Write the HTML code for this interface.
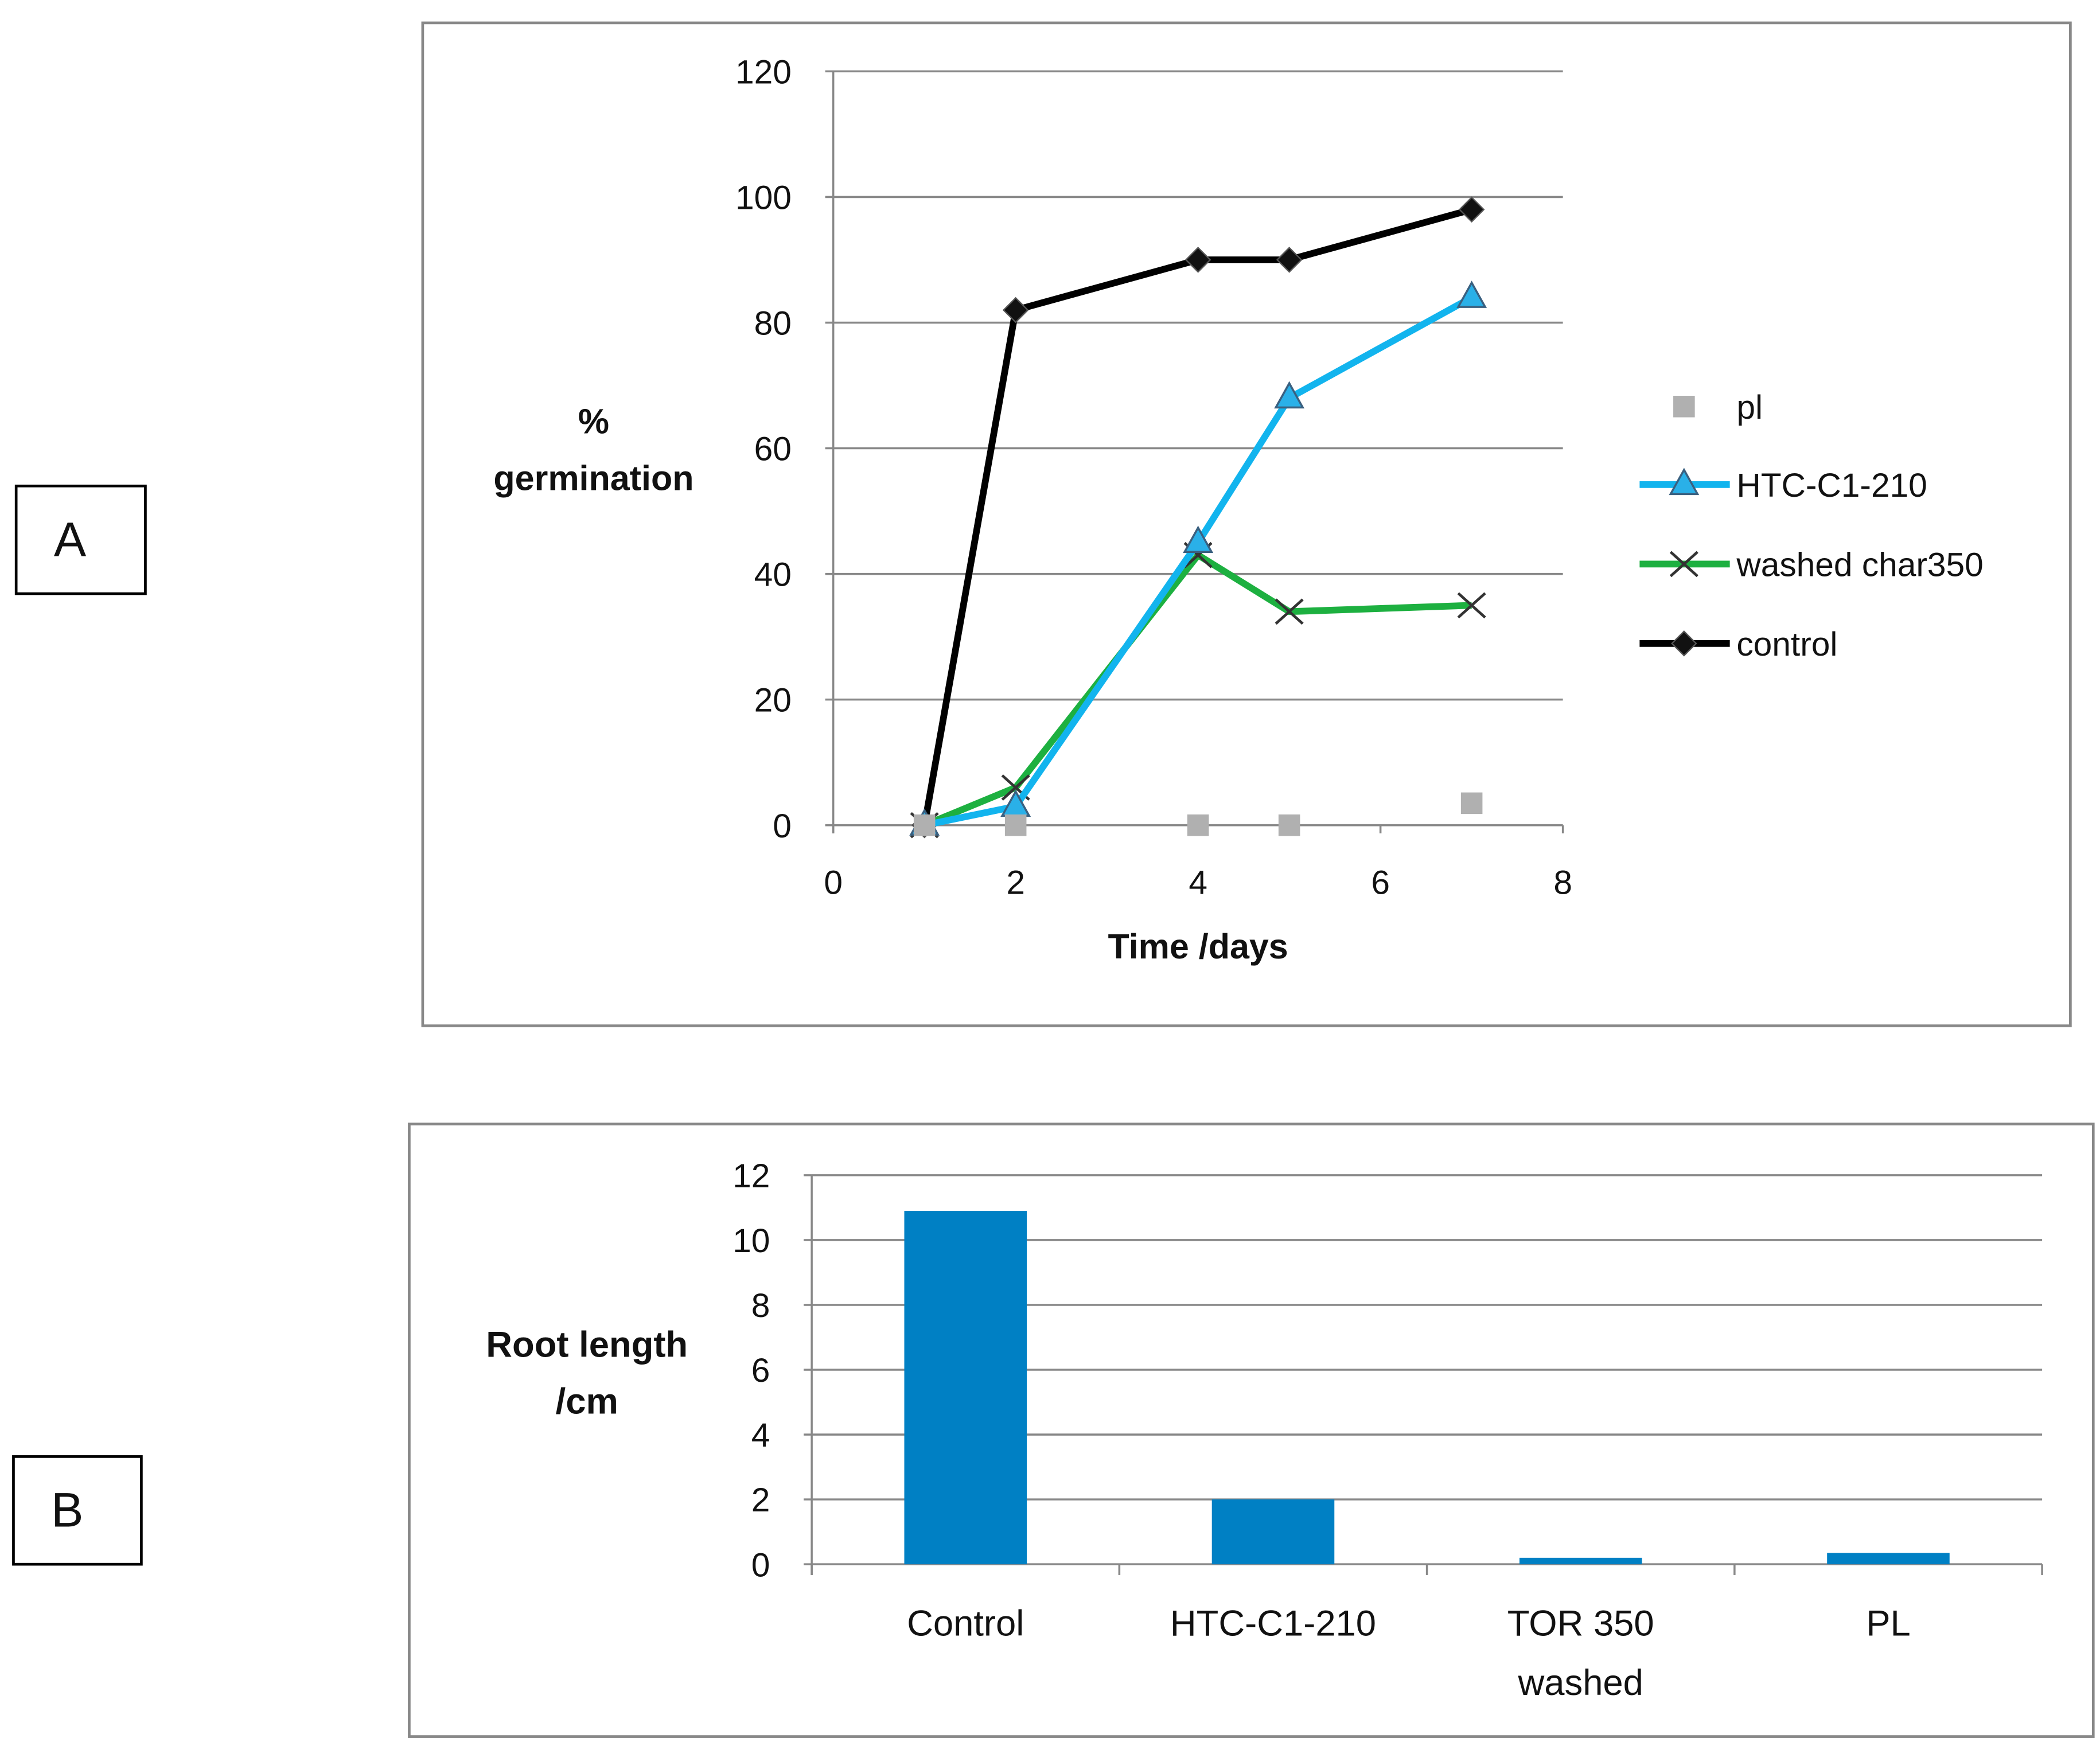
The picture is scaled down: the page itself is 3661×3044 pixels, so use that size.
<!DOCTYPE html>
<html><head><meta charset="utf-8"><style>html,body{margin:0;padding:0;background:#fff}svg{display:block}text{font-family:"Liberation Sans","DejaVu Sans",sans-serif;fill:#111}</style></head>
<body>
<svg id="s" width="3661" height="3044" viewBox="0 0 1560 1297" preserveAspectRatio="none" xmlns="http://www.w3.org/2000/svg">
<rect x="12" y="361" width="96" height="80" fill="none" stroke="#000" stroke-width="2"/>
<text x="52" y="413" font-size="36" text-anchor="middle">A</text>
<rect x="10" y="1082" width="95" height="80" fill="none" stroke="#000" stroke-width="2"/>
<text x="50" y="1134" font-size="36" text-anchor="middle">B</text>
<rect x="314" y="17" width="1224" height="745" fill="none" stroke="#888" stroke-width="2"/>
<rect x="304" y="835" width="1251" height="455" fill="none" stroke="#888" stroke-width="2"/>
<g id="ga"></g><g id="gb"></g>
</svg>
<script>
const days=[1,2,4,5,7];
const plVals=[0,0,0,0,3.5];
const htcVals=[0,3,45,68,84];
const washedVals=[0,6,43,34,35];
const controlVals=[0,82,90,90,98];
const yTicksA=[0,20,40,60,80,100,120];
const xTicksA=[0,2,4,6,8];
const cats=[["Control"],["HTC-C1-210"],["TOR 350","washed"],["PL"]];
const rootVals=[10.9,2.0,0.2,0.35];
const yTicksB=[0,2,4,6,8,10,12];
const NS="http://www.w3.org/2000/svg";
function mk(p,t,a,txt){const e=document.createElementNS(NS,t);for(const k in a)e.setAttribute(k,a[k]);if(txt!=null)e.textContent=txt;p.appendChild(e);return e;}
const ga=document.getElementById('ga');
const xA=v=>619+v*(1161-619)/8, yA=v=>613-v*(613-53)/120;
for(const t of yTicksA){
 const l=mk(ga,'line',{x1:xA(0)-6,x2:xA(8),y1:yA(t),y2:yA(t),stroke:'#888','stroke-width':1.5});
 
 
 const tx=mk(ga,'text',{x:588,y:yA(t)+9,'font-size':25,'text-anchor':'end'},t);
 
 
}
mk(ga,'line',{x1:xA(0),x2:xA(0),y1:yA(120),y2:yA(0)+6,stroke:'#888','stroke-width':1.5});
for(const t of xTicksA){
 mk(ga,'line',{x1:xA(t),x2:xA(t),y1:yA(0),y2:yA(0)+6,stroke:'#888','stroke-width':1.5});
 const tx=mk(ga,'text',{x:xA(t),y:664,'font-size':25,'text-anchor':'middle'},t);
 
 
}
let e=mk(ga,'text',{x:441,y:322,'font-size':26,'font-weight':'bold','text-anchor':'middle'},'%');


e=mk(ga,'text',{x:441,y:364,'font-size':26,'font-weight':'bold','text-anchor':'middle'},'germination');


e=mk(ga,'text',{x:890,y:712,'font-size':26,'font-weight':'bold','text-anchor':'middle'},'Time /days');


function marker(g,type,x,y,col){
 if(type==='sq'){mk(g,'rect',{x:x-8,y:y-8,width:16,height:16,fill:'#b0b0b0'});}
 else if(type==='tri'){mk(g,'polygon',{points:`${x},${y-11} ${x+10},${y+7} ${x-10},${y+7}`,fill:'#2ab0e8',stroke:'#3a6080','stroke-width':1.5});}
 else if(type==='x'){mk(g,'path',{d:`M${x-10},${y-9}L${x+10},${y+9}M${x-10},${y+9}L${x+10},${y-9}`,stroke:'#333','stroke-width':2});}
 else {mk(g,'polygon',{points:`${x},${y-9} ${x+9},${y} ${x},${y+9} ${x-9},${y}`,fill:'#111',stroke:'#555','stroke-width':1});}
}
const series=[{n:'control',v:controlVals,c:'#000',m:'dia'},{n:'washed-char350',v:washedVals,c:'#1db040',m:'x'},{n:'htc-c1-210',v:htcVals,c:'#12b4ee',m:'tri'},{n:'pl',v:plVals,c:null,m:'sq'}];
for(const s of series){
 const g=mk(ga,'g',{});
 
 
 if(s.c){const p=mk(g,'polyline',{points:days.map((d,i)=>xA(d)+','+yA(s.v[i])).join(' '),fill:'none',stroke:s.c,'stroke-width':5,'stroke-linejoin':'round'});
  
  }
 days.forEach((d,i)=>marker(g,s.m,xA(d),yA(s.v[i]),s.c));
}
const leg=[['pl','sq',null,302],['HTC-C1-210','tri','#12b4ee',360],['washed char350','x','#1db040',419],['control','dia','#000',478]];
for(const [t,m,c,y] of leg){
 const g=mk(ga,'g',{});
 
 
 if(c)mk(g,'line',{x1:1218,x2:1285,y1:y,y2:y,stroke:c,'stroke-width':5});
 marker(g,m,1251,y,c);
 mk(g,'text',{x:1290,y:y+9,'font-size':25},t);
}
const gb=document.getElementById('gb');
const x0=603,x1=1517,cw=(x1-x0)/cats.length,yB=v=>1162-v*(1162-873)/12;
for(const t of yTicksB){
 if(t>0){const l=mk(gb,'line',{x1:x0,x2:x1,y1:yB(t),y2:yB(t),stroke:'#888','stroke-width':1.5});
 
 }
 mk(gb,'line',{x1:x0-6,x2:x0,y1:yB(t),y2:yB(t),stroke:'#888','stroke-width':1.5});
 const tx=mk(gb,'text',{x:572,y:yB(t)+9,'font-size':25,'text-anchor':'end'},t);
 
 
}
mk(gb,'line',{x1:x0,x2:x0,y1:yB(12),y2:yB(0)+8,stroke:'#888','stroke-width':1.5});
mk(gb,'line',{x1:x0,x2:x1,y1:yB(0),y2:yB(0),stroke:'#888','stroke-width':1.5});
for(let i=0;i<=cats.length;i++)mk(gb,'line',{x1:x0+i*cw,x2:x0+i*cw,y1:yB(0),y2:yB(0)+8,stroke:'#888','stroke-width':1.5});
cats.forEach((c,i)=>{
 const cx=x0+(i+0.5)*cw;
 const b=mk(gb,'rect',{x:cx-45.5,y:yB(rootVals[i]),width:91,height:yB(0)-yB(rootVals[i]),fill:'#0080c4'});
 
 
 c.forEach((ln,j)=>{const t=mk(gb,'text',{x:cx,y:1215+j*44,'font-size':27,'text-anchor':'middle'},ln);
  
  });
});
e=mk(gb,'text',{x:436,y:1008,'font-size':27,'font-weight':'bold','text-anchor':'middle'},'Root length');


e=mk(gb,'text',{x:436,y:1050,'font-size':27,'font-weight':'bold','text-anchor':'middle'},'/cm');


</script>
</body></html>
